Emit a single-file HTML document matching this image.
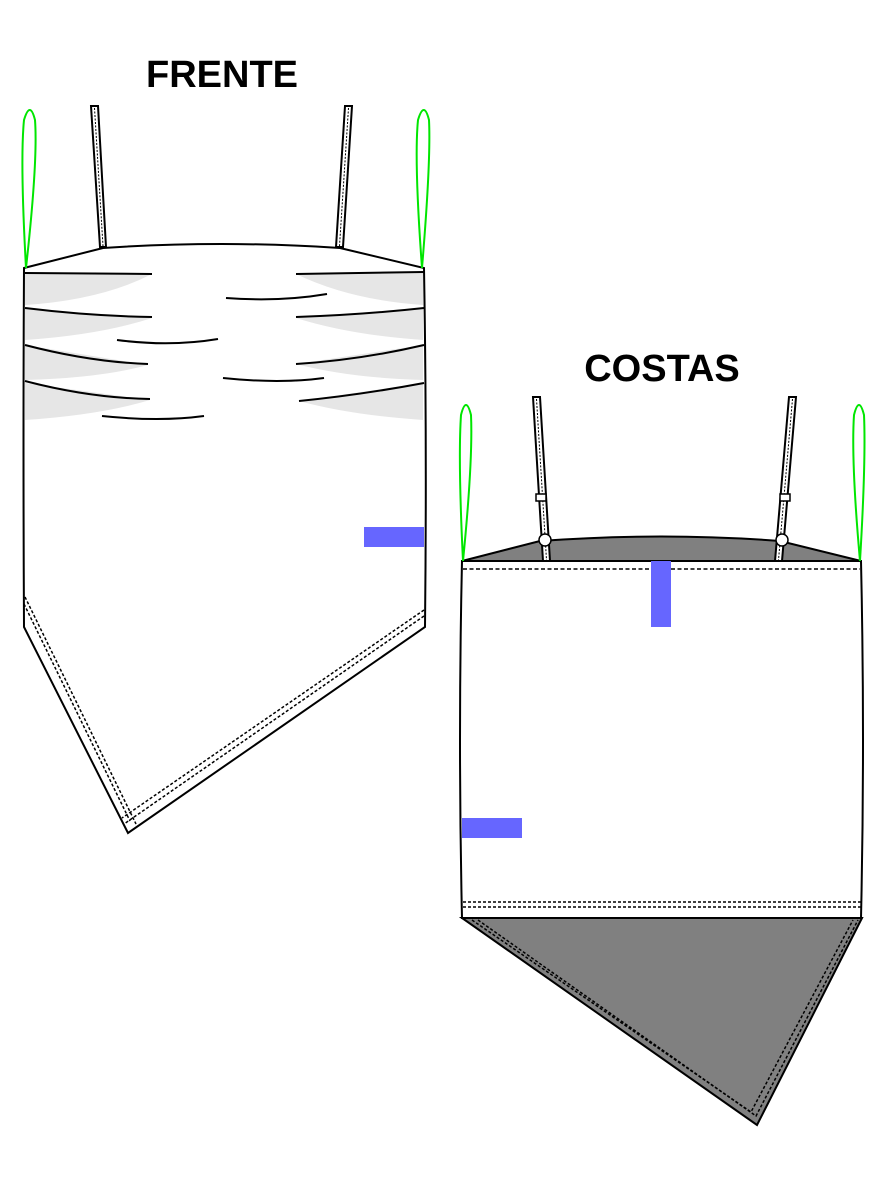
<!DOCTYPE html>
<html><head><meta charset="utf-8"><style>
html,body{margin:0;padding:0;background:#fff;}
svg{display:block;}
text{font-family:"Liberation Sans",sans-serif;font-weight:bold;}
</style></head><body>
<svg width="886" height="1182" viewBox="0 0 886 1182" xmlns="http://www.w3.org/2000/svg">
<rect width="886" height="1182" fill="#fff"/>
<text x="222" y="87" font-size="38" text-anchor="middle">FRENTE</text>
<text x="662" y="381" font-size="38" text-anchor="middle">COSTAS</text>

<!-- FRONT -->
<g stroke="#000" fill="none" stroke-width="2">
  <path d="M91,106 L98,106 L106,247 L100,247 Z" fill="#fff"/>
  <path d="M94.5,108 L103,246" stroke-width="1" stroke-dasharray="2,1.5"/>
  <path d="M345,106 L352,106 L343,247 L336,247 Z" fill="#fff"/>
  <path d="M348.5,108 L339.5,246" stroke-width="1" stroke-dasharray="2,1.5"/>
  <path d="M24,268 L103,248 Q222,240 340,248 L424,268 Q427,440 425,627 L128,833 L24,627 Q23,440 24,268 Z" fill="#fff"/>
  <g fill="#e6e6e6" stroke="none">
    <path d="M25,273 L150,275 Q100,300 25,305 Z"/>
    <path d="M25,309 L152,318 Q100,335 25,340 Z"/>
    <path d="M25,345 L148,365 Q100,378 25,380 Z"/>
    <path d="M25,383 L150,400 Q100,415 25,420 Z"/>
    <path d="M423,273 L296,274 Q350,300 423,305 Z"/>
    <path d="M423,309 L296,318 Q350,335 423,340 Z"/>
    <path d="M423,345 L296,364 Q350,378 423,380 Z"/>
    <path d="M423,383 L299,401 Q350,415 423,420 Z"/>
  </g>
  <path d="M25,273 L152,274"/>
  <path d="M25,308 Q90,316 152,317"/>
  <path d="M25,345 Q90,362 148,364"/>
  <path d="M25,381 Q90,398 150,399"/>
  <path d="M296,274 L424,272"/>
  <path d="M296,317 Q360,315 424,308"/>
  <path d="M296,364 Q360,360 424,345"/>
  <path d="M299,401 Q360,395 424,383"/>
  <path d="M226,298 Q280,302 327,294"/>
  <path d="M117,340 Q170,347 218,339"/>
  <path d="M223,378 Q280,384 324,378"/>
  <path d="M102,416 Q160,422 204,416"/>
  <!-- hem stitch -->
  <path d="M24,604 L130,821" stroke-width="1.5" stroke-dasharray="3,2"/>
  <path d="M25,597 L136,824" stroke-width="1.5" stroke-dasharray="3,2"/>
  <path d="M424,610 L122,818" stroke-width="1.5" stroke-dasharray="3,2"/>
  <path d="M424,616 L124,824" stroke-width="1.5" stroke-dasharray="3,2"/>
</g>
<g stroke="#00e600" fill="none" stroke-width="2">
  <path d="M26,268 Q20,160 24,120 Q30,100 35,120 Q38,160 26,268"/>
  <path d="M422,268 Q414,160 418,120 Q424,100 429,120 Q431,160 422,268"/>
</g>
<rect x="364" y="527" width="60" height="20" fill="#6666ff"/>

<!-- BACK -->
<g stroke="#000" fill="none" stroke-width="2">
  <path d="M462,561 L540,541 Q662,532 780,541 L861,561 Z" fill="#808080"/>
  <path d="M533,397 L540,397 L550,561 L543,561 Z" fill="#fff"/>
  <path d="M536.5,399 L546.5,560" stroke-width="1" stroke-dasharray="2,1.5"/>
  <path d="M789,397 L796,397 L782,561 L775,561 Z" fill="#fff"/>
  <path d="M792.5,399 L778.5,560" stroke-width="1" stroke-dasharray="2,1.5"/>
  <rect x="536" y="494" width="10" height="7" fill="#fff" stroke-width="1.5"/>
  <rect x="780" y="494" width="10" height="7" fill="#fff" stroke-width="1.5"/>
  <circle cx="545" cy="540" r="6" fill="#fff" stroke-width="1.5"/>
  <circle cx="782" cy="540" r="6" fill="#fff" stroke-width="1.5"/>
  <path d="M862,918 L757,1125 L462,918 Z" fill="#808080"/>
  <path d="M472,920 L751,1112 L853,920" stroke-width="1.5" stroke-dasharray="3,2"/>
  <path d="M478,920 L756,1116 L858,920" stroke-width="1.5" stroke-dasharray="3,2"/>
  <path d="M462,561 L861,561 Q865,740 861,918 L462,918 Q458,740 462,561 Z" fill="#fff"/>
  <path d="M463,569 L860,569" stroke-width="1.5" stroke-dasharray="4,2.5"/>
  <path d="M463,902 L861,902 M463,907 L861,907" stroke-width="1.5" stroke-dasharray="3,2"/>
</g>
<g stroke="#00e600" fill="none" stroke-width="2">
  <path d="M463,561 Q458,460 461,415 Q466,395 471,415 Q473,460 463,561"/>
  <path d="M860,561 Q851,460 854,415 Q859,395 864,415 Q866,460 860,561"/>
</g>
<rect x="651" y="561" width="20" height="66" fill="#6666ff"/>
<rect x="462" y="818" width="60" height="20" fill="#6666ff"/>
</svg>
</body></html>
